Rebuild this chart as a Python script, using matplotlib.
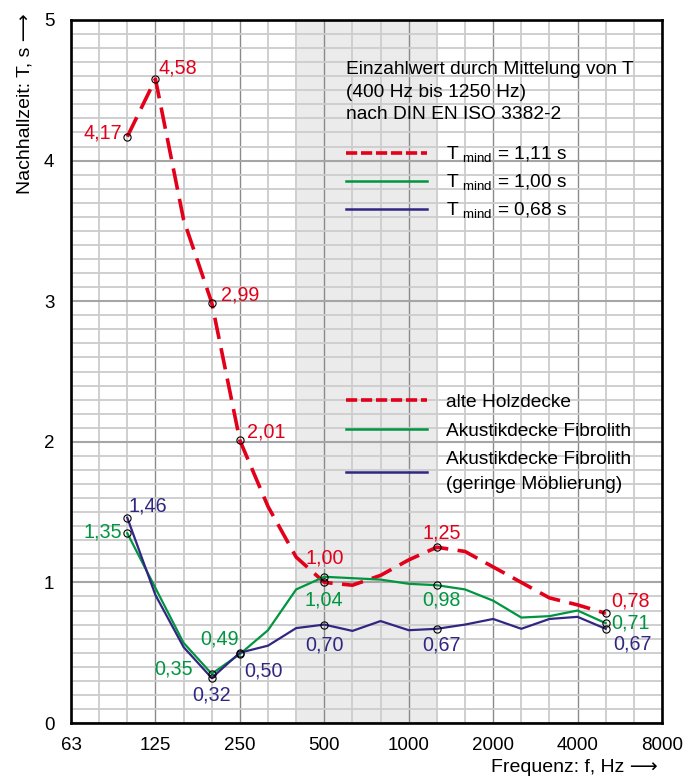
import numpy as np
import matplotlib
matplotlib.use("Agg")
import matplotlib.pyplot as plt
from matplotlib.lines import Line2D

plt.rcParams['font.family'] = ['Liberation Sans', 'DejaVu Sans']

# third-octave axis, 63 Hz .. 8000 Hz
freq_axis = [63, 80, 100, 125, 160, 200, 250, 315, 400, 500, 630, 800,
             1000, 1250, 1600, 2000, 2500, 3150, 4000, 5000, 6300, 8000]
octave_labels = ['63', '125', '250', '500', '1000', '2000', '4000', '8000']

freq = [100, 125, 160, 200, 250, 315, 400, 500, 630, 800,
        1000, 1250, 1600, 2000, 2500, 3150, 4000, 5000]
t_holz = [4.17, 4.58, 3.58, 2.99, 2.01, 1.54, 1.18, 1.00, 0.98, 1.05,
          1.16, 1.25, 1.22, 1.11, 1.00, 0.89, 0.84, 0.78]
t_fibro = [1.35, 0.96, 0.57, 0.35, 0.49, 0.66, 0.95, 1.04, 1.03, 1.02,
           0.99, 0.98, 0.95, 0.87, 0.75, 0.76, 0.80, 0.71]
t_fibro_leer = [1.46, 0.91, 0.54, 0.32, 0.50, 0.55, 0.675, 0.70, 0.655, 0.725,
                0.66, 0.67, 0.70, 0.74, 0.67, 0.74, 0.755, 0.67]

t_mind = [1.11, 1.00, 0.68]
mittel_band = (400, 1250)

red = '#e3001b'
green = '#009640'
blue = '#312783'

# labelled points: frequency -> (dx px, dy px, ha)
lab_holz = {100: (-5, 4, 'right'), 125: (3, 11, 'left'), 200: (9, 8, 'left'),
            250: (7, 8, 'left'), 500: (0, 24, 'center'), 1250: (5, 14, 'center'),
            5000: (6, 12, 'left')}
lab_fibro = {100: (-5, 1, 'right'), 200: (-19, 5, 'right'), 250: (-1, 15, 'right'),
             500: (0, -23, 'center'), 1250: (5, -15, 'center'), 5000: (6, 0, 'left')}
lab_leer = {100: (1, 12, 'left'), 200: (0, -17, 'center'), 250: (4, -18, 'left'),
            500: (0, -20, 'center'), 1250: (5, -16, 'center'), 5000: (8, -15, 'left')}

x = np.array([freq_axis.index(f) for f in freq])

fig = plt.figure(figsize=(7, 7.8), dpi=100)
ax = fig.add_axes([71 / 700, 57 / 780, 591 / 700, 703 / 780])

ax.axvspan(freq_axis.index(mittel_band[0]), freq_axis.index(mittel_band[1]),
           color='#ebebeb', zorder=0, lw=0)

ax.set_xlim(0, len(freq_axis) - 1)
ax.set_ylim(0, 5)
ax.set_xticks(range(0, len(freq_axis), 3))
ax.set_xticklabels(octave_labels)
ax.set_xticks(range(len(freq_axis)), minor=True)
ax.set_yticks(range(6))
ax.set_yticks(np.arange(0, 5.001, 0.1), minor=True)
ax.tick_params(which='both', length=0)
ax.tick_params(axis='y', pad=12, labelsize=13.5)
ax.tick_params(axis='x', pad=10, labelsize=13.5)
ax.grid(which='minor', color='#cccccc', lw=1.3, zorder=1)
ax.grid(which='major', axis='x', color='#8a8a8a', lw=1.0, zorder=1)
ax.grid(which='major', axis='y', color='#a5a5a5', lw=1.5, zorder=1)
ax.set_axisbelow(True)
for s in ax.spines.values():
    s.set_linewidth(1.9)
    s.set_color('black')
    s.set_zorder(5)

series = [(t_holz, red, lab_holz, dict(lw=2.6, dashes=(6, 2.6))),
          (t_fibro, green, lab_fibro, dict(lw=1.6)),
          (t_fibro_leer, blue, lab_leer, dict(lw=1.6))]

for vals, col, labs, style in series:
    ax.plot(x, vals, color=col, zorder=3, **style)

for vals, col, labs, style in series:
    for f, (dx, dy, ha) in labs.items():
        i = freq.index(f)
        ax.plot(x[i], vals[i], 'o', ms=5.2, mfc='none', mec='black', mew=0.8, zorder=4)
        ax.annotate(f"{vals[i]:.2f}".replace('.', ','), (x[i], vals[i]),
                    xytext=(dx, dy), textcoords='offset pixels',
                    ha=ha, va='center', color=col, fontsize=14.2, zorder=6)

h_red = Line2D([], [], color=red, lw=2.6, dashes=(3.1, 1.05))
h_green = Line2D([], [], color=green, lw=1.8)
h_blue = Line2D([], [], color=blue, lw=1.8)

ax.text(0.465, 0.941, 'Einzahlwert durch Mittelung von T\n(400 Hz bis 1250 Hz)\nnach DIN EN ISO 3382-2',
        transform=ax.transAxes, ha='left', va='top', fontsize=13.8, linespacing=1.4, zorder=6)

leg1 = ax.legend([h_red, h_green, h_blue],
                 [r'T$_{\ \mathregular{mind}}$ = ' + f"{v:.2f}".replace('.', ',') + ' s'
                  for v in t_mind],
                 loc='upper left', bbox_to_anchor=(0.465, 0.822), frameon=False,
                 fontsize=13.8, borderpad=0, borderaxespad=0, handlelength=4.25,
                 handletextpad=0.97, labelspacing=0.39)
ax.add_artist(leg1)

leg2 = ax.legend([h_red, h_green, h_blue],
                 ['alte Holzdecke', 'Akustikdecke Fibrolith',
                  'Akustikdecke Fibrolith\n(geringe Möblierung)'],
                 loc='upper left', bbox_to_anchor=(0.465, 0.469), frameon=False,
                 fontsize=13.8, borderpad=0, borderaxespad=0, handlelength=4.25,
                 handletextpad=0.97, labelspacing=0.6)
for t in leg2.get_texts():
    t.set_linespacing(1.62)

fig.text(25 / 700, 1 - 13 / 780, 'Nachhallzeit: T, s \u27f6', rotation=90,
         ha='center', va='top', fontsize=14)
fig.text(658 / 700, 1 - 767 / 780, 'Frequenz: f, Hz \u27f6',
         ha='right', va='center', fontsize=14)

fig.savefig('out.png', dpi=100)
